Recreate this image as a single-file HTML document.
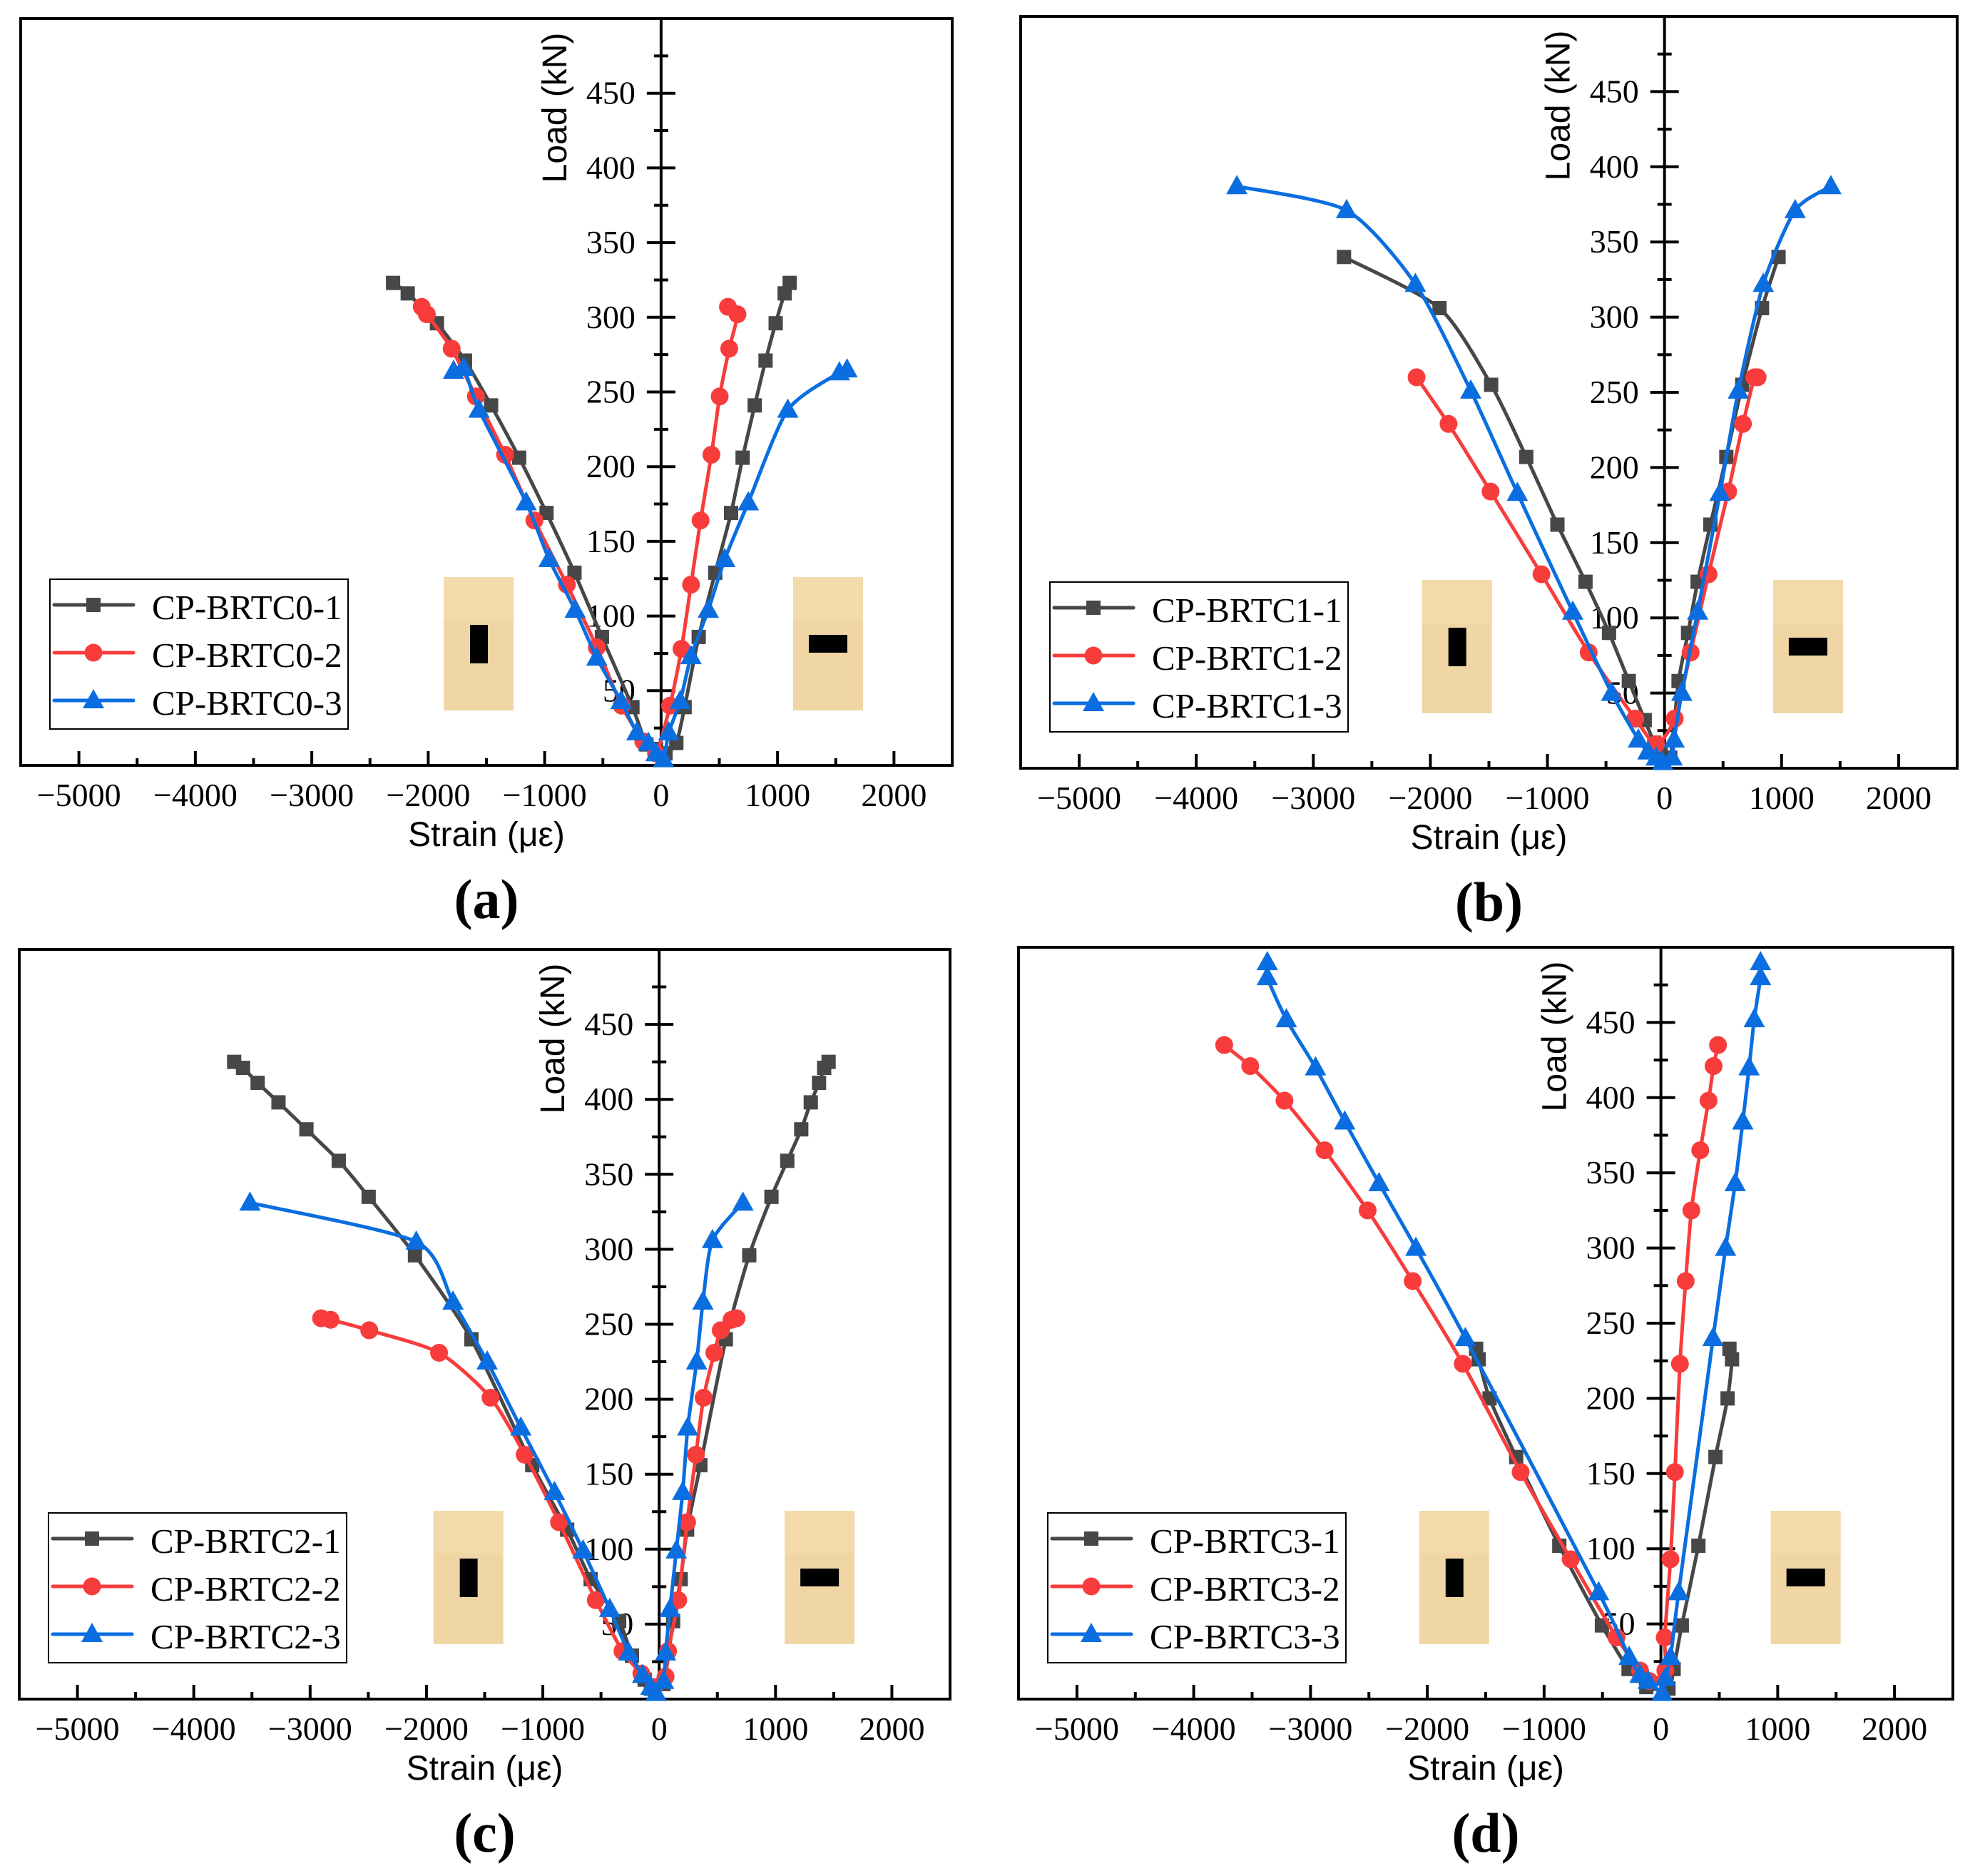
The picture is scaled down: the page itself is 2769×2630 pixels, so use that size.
<!DOCTYPE html>
<html><head><meta charset="utf-8"><style>
html,body{margin:0;padding:0;background:#fff;}
svg{display:block;}
</style></head><body>
<svg id="fig" xmlns="http://www.w3.org/2000/svg" width="2769" height="2630" viewBox="0 0 2769 2630"></svg>
<script>
// ---- data arrays (strain in microstrain, load in kN) ----
const xTicks = [-5000,-4000,-3000,-2000,-1000,0,1000,2000];
const xTickLabels = ["\u22125000","\u22124000","\u22123000","\u22122000","\u22121000","0","1000","2000"];
const yTicks = [100,150,200,250,300,350,400,450];
const yTickLabels = ["100","150","200","250","300","350","400","450"];
const panelLetters = ["(a)","(b)","(c)","(d)"];
const seriesNames = [["CP-BRTC0-1","CP-BRTC0-2","CP-BRTC0-3"],["CP-BRTC1-1","CP-BRTC1-2","CP-BRTC1-3"],["CP-BRTC2-1","CP-BRTC2-2","CP-BRTC2-3"],["CP-BRTC3-1","CP-BRTC3-2","CP-BRTC3-3"]];

// panel a
const a1x=[-2302,-2176,-1925,-1684,-1460,-1219,-984,-744,-508,-246,-126,-44,38,131,202,323,465,601,700,804,897,984,1061,1104];
const a1y=[323,316,296,271,241,206,169,129,86,39,14,11,8,15,39,86,129,169,206,241,271,296,316,323];
const a2x=[-2056,-2012,-1799,-1591,-1340,-1088,-809,-552,-339,-153,-44,77,175,257,339,432,503,585,656,574];
const a2y=[307,302,279,247,208,164,121,79,40,16,8,40,78,121,164,208,247,279,302,307];
const a3x=[-1782,-1695,-1564,-1159,-962,-738,-552,-344,-208,-109,-44,22,66,164,257,405,547,749,1088,1531,1597];
const a3y=[264,266,238,176,138,104,72,43,22,15,8,4,22,43,73,104,138,176,238,263,265];
// panel b
const b1x=[-2738,-1922,-1481,-1181,-915,-675,-474,-305,-169,-87,-33,49,120,201,283,392,528,664,833,974];
const b1y=[340,306,255,207,162,124,90,58,32,17,9,7,58,90,124,162,207,255,306,340];
const b2x=[-2118,-1845,-1486,-1051,-648,-250,-71,87,223,376,544,670,768,795];
const b2y=[260,229,184,129,77,33,16,33,77,129,184,229,260,260];
const b3x=[-3653,-2716,-2128,-1655,-1257,-784,-452,-223,-142,-71,-16,65,82,147,283,474,631,844,1116,1421];
const b3y=[387,371,322,251,183,104,50,19,11,7,4,7,19,50,104,183,251,322,371,387];
// panel c
const c1x=[-3653,-3577,-3451,-3272,-3032,-2754,-2497,-2099,-1614,-1091,-791,-589,-344,-234,-125,-71,38,120,185,240,354,573,774,965,1101,1221,1303,1374,1418,1456];
const c1y=[425,421,411,398,380,359,335,296,240,156,113,80,52,29,13,7,10,52,80,113,156,240,296,335,359,380,398,411,421,425];
const c2x=[-2906,-2824,-2492,-1892,-1450,-1156,-861,-545,-316,-153,-44,55,76,164,240,316,382,474,529,622,665];
const c2y=[254,253,246,231,201,163,118,66,32,17,8,15,32,66,118,163,201,231,246,253,254];
const c3x=[-3517,-2088,-1772,-1478,-1189,-900,-654,-425,-262,-142,-71,-27,38,55,93,147,202,245,322,376,458,720];
const c3y=[331,305,265,225,181,138,99,60,31,16,8,4,12,31,60,99,138,181,225,265,306,331];
// panel d
const d1x=[-1582,-1560,-1467,-1239,-870,-505,-277,-125,65,109,179,321,467,571,609,587];
const d1y=[233,226,200,161,102,49,20,8,7,20,49,102,161,200,226,233];
const d2x=[-3739,-3516,-3223,-2880,-2511,-2125,-1696,-1201,-772,-380,-179,-98,38,33,82,120,163,212,261,337,408,451,489];
const d2y=[435,421,398,365,325,278,223,151,93,41,19,12,19,41,93,151,223,278,325,365,398,421,435];
const d3x=[-3370,-3370,-3207,-2957,-2707,-2413,-2098,-1674,-533,-272,-179,-109,11,38,82,152,446,554,636,701,755,799,853,853];
const d3y=[490,480,452,420,384,343,300,240,71,28,16,12,4,14,28,71,240,300,343,384,420,452,480,490];

const panelSeriesX=[[a1x,a2x,a3x],[b1x,b2x,b3x],[c1x,c2x,c3x],[d1x,d2x,d3x]];
const panelSeriesY=[[a1y,a2y,a3y],[b1y,b2y,b3y],[c1y,c2y,c3y],[d1y,d2y,d3y]];
const iconCenters=[[-1567,1434],[-1773,1226],[-1640,1379],[-1770,1240]];

// ---- layout ----
const panels=[{L:29,R:1335,T:26,B:1073},{L:1431,R:2744,T:23,B:1077},{L:27,R:1332,T:1331,B:2382},{L:1428,R:2738,T:1328,B:2382}];
const XMIN=-5500,XMAX=2500,YMIN=0,YMAX=500;
const colors=["#474747","#f83c3c","#0a6ee0"];
const NS="http://www.w3.org/2000/svg";
const svg=document.getElementById('fig');
function mk(tag,attrs,parent){const e=document.createElementNS(NS,tag);for(const k in attrs)e.setAttribute(k,attrs[k]);(parent||svg).appendChild(e);return e;}
function marker(g,kind,cx,cy,col){
  let m;
  if(kind===0){m=mk('rect',{x:cx-10,y:cy-10,width:20,height:20,fill:col},g);}
  else if(kind===1){m=mk('circle',{cx:cx,cy:cy,r:12.5,fill:col},g);}
  else {m=mk('polygon',{points:`${cx},${cy-16} ${cx+15},${cy+11} ${cx-15},${cy+11}`,fill:col},g);}
  return m;
}
function smoothPath(P){
  let d='M'+P[0][0].toFixed(1)+','+P[0][1].toFixed(1);
  const t=0.12;
  for(let i=0;i<P.length-1;i++){
    const p0=P[Math.max(0,i-1)],p1=P[i],p2=P[i+1],p3=P[Math.min(P.length-1,i+2)];
    const c1x=p1[0]+(p2[0]-p0[0])*t,c1y=p1[1]+(p2[1]-p0[1])*t;
    const c2x=p2[0]-(p3[0]-p1[0])*t,c2y=p2[1]-(p3[1]-p1[1])*t;
    d+=` C${c1x.toFixed(1)},${c1y.toFixed(1)} ${c2x.toFixed(1)},${c2y.toFixed(1)} ${p2[0].toFixed(1)},${p2[1].toFixed(1)}`;
  }
  return d;
}

panels.forEach((p,pi)=>{
  const sx=v=>p.L+(v-XMIN)/(XMAX-XMIN)*(p.R-p.L);
  const sy=v=>p.B-(v-YMIN)/(YMAX-YMIN)*(p.B-p.T);
  const g=mk('g',{});
  
  
  const x0=sx(0);
  [0,1].forEach(k=>{
    const cx=sx(iconCenters[pi][k]);
    const ig=mk('g',{},g);
    
    
    mk('rect',{x:cx-49,y:p.B-264,width:98,height:187,fill:'#efd6a4'},ig);
    mk('rect',{x:cx-49,y:p.B-264,width:98,height:60,fill:'#f3dcaf',opacity:0.6},ig);
    if(k===0) mk('rect',{x:cx-12,y:p.B-197,width:25,height:54,fill:'#000'},ig);
    else mk('rect',{x:cx-27,y:p.B-183,width:54,height:25,fill:'#000'},ig);
  });
  const fr=mk('rect',{x:p.L,y:p.T,width:p.R-p.L,height:p.B-p.T,fill:'none',stroke:'#000','stroke-width':4},g);
  
  
  const ya=mk('line',{x1:x0,y1:p.T,x2:x0,y2:p.B,stroke:'#000','stroke-width':4},g);
  
  
  for(let v=25;v<500;v+=25){
    const major=v%50===0;const y=sy(v);
    mk('line',{x1:x0-(major?20:10),y1:y,x2:x0+(major?20:10),y2:y,stroke:'#000','stroke-width':4},g);
  }
  yTicks.forEach((v,i)=>{
    const t=mk('text',{x:x0-36,y:sy(v)+15,'text-anchor':'end','font-family':'Liberation Serif, serif','font-size':46},g);
    t.textContent=yTickLabels[i];
    
    
  });
  const t50=mk('text',{x:x0-36,y:sy(50)+15,'text-anchor':'end','font-family':'Liberation Serif, serif','font-size':46},g);
  t50.textContent='50';
  
  
  for(let v=-5000;v<=2000;v+=500){
    const major=v%1000===0;const x=sx(v);
    mk('line',{x1:x,y1:p.B,x2:x,y2:p.B-(major?20:10),stroke:'#000','stroke-width':4},g);
  }
  xTicks.forEach((v,i)=>{
    const t=mk('text',{x:sx(v),y:p.B+57,'text-anchor':'middle','font-family':'Liberation Serif, serif','font-size':46},g);
    t.textContent=xTickLabels[i];
    
    
  });
  const xt=mk('text',{x:(p.L+p.R)/2,y:p.B+113,'text-anchor':'middle','font-family':'Liberation Sans, sans-serif','font-size':48},g);
  xt.textContent='Strain (\u03bc\u03b5)';
  
  
  const yt=mk('text',{x:0,y:0,'text-anchor':'middle','font-family':'Liberation Sans, sans-serif','font-size':48,transform:`translate(${x0-133},${p.T+125}) rotate(-90)`},g);
  yt.textContent='Load (kN)';
  
  
  const pl=mk('text',{x:(p.L+p.R)/2,y:p.B+214,'text-anchor':'middle','font-family':'Liberation Serif, serif','font-size':78,'font-weight':'bold'},g);
  pl.textContent=panelLetters[pi];
  
  
  for(let s=0;s<3;s++){
    const X=panelSeriesX[pi][s],Y=panelSeriesY[pi][s];
    const sg=mk('g',{},g);
    
    
    const P=X.map((v,i)=>[sx(v),sy(Y[i])]);
    const ln=mk('path',{d:smoothPath(P),fill:'none',stroke:colors[s],'stroke-width':5,'stroke-linejoin':'round'},sg);
    
    
    X.forEach((v,i)=>{
      const m=marker(sg,s,sx(v),sy(Y[i]),colors[s]);
      
      
    });
  }
  const lx=p.L+41,ly=p.B-261;
  const lg=mk('g',{},g);
  
  
  mk('rect',{x:lx,y:ly,width:418,height:210,fill:'#fff',stroke:'#000','stroke-width':2},lg);
  for(let s=0;s<3;s++){
    const cy=ly+36+s*67;
    const eg=mk('g',{},lg);
    
    
    mk('line',{x1:lx+6,y1:cy,x2:lx+117,y2:cy,stroke:colors[s],'stroke-width':5,'stroke-linecap':'round'},eg);
    marker(eg,s,lx+61,cy,colors[s]);
    const t=mk('text',{x:lx+143,y:cy+20,'font-family':'Liberation Serif, serif','font-size':49},eg);
    t.textContent=seriesNames[pi][s];
  }
});
</script>
</body></html>
